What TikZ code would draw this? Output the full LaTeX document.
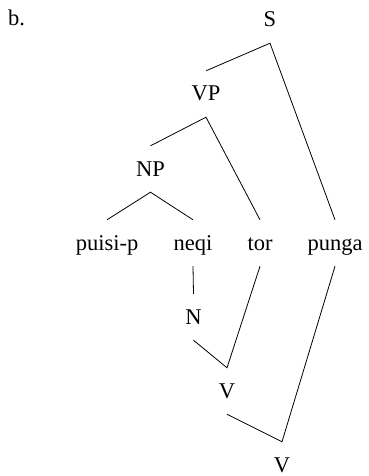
\documentclass[tikz,border=0pt]{standalone}
\usepackage{fontspec}
\setmainfont{Liberation Serif}
\begin{document}
\begin{tikzpicture}[x=1pt,y=-1pt,
  lab/.style={anchor=base,inner xsep=0pt,inner ysep=0pt,text height=30pt,text depth=16pt,font=\fontsize{22.5}{27}\selectfont},
  branch/.style={draw=black,line width=0.8pt}]
\useasboundingbox (0,0) rectangle (368,476);
\node[anchor=base west,inner sep=0pt,font=\fontsize{22.5}{27}\selectfont] (b) at (8,26) {b.};
\node[lab] (S) at (270,27) {S};
\node[lab] (VP) at (206,101) {VP};
\node[lab] (NP) at (150.5,176) {NP};
\node[lab] (puisi) at (107,250) {puisi-p};
\node[lab] (neqi) at (193,250) {neqi};
\node[lab] (tor) at (260,250) {tor};
\node[lab] (punga) at (335,250) {punga};
\node[lab] (N) at (193.5,324) {N};
\node[lab] (V1) at (227,398) {V};
\node[lab] (V2) at (282,472) {V};
\draw[branch] (VP.north) -- (S.south) -- (punga.north);
\draw[branch] (NP.north) -- (VP.south) -- (tor.north);
\draw[branch] (puisi.north) -- (NP.south) -- (neqi.north);
\draw[branch] (neqi.south) -- (N.north);
\draw[branch] (N.south) -- (V1.north) -- (tor.south);
\draw[branch] (V1.south) -- (V2.north) -- (punga.south);
\end{tikzpicture}
\end{document}
